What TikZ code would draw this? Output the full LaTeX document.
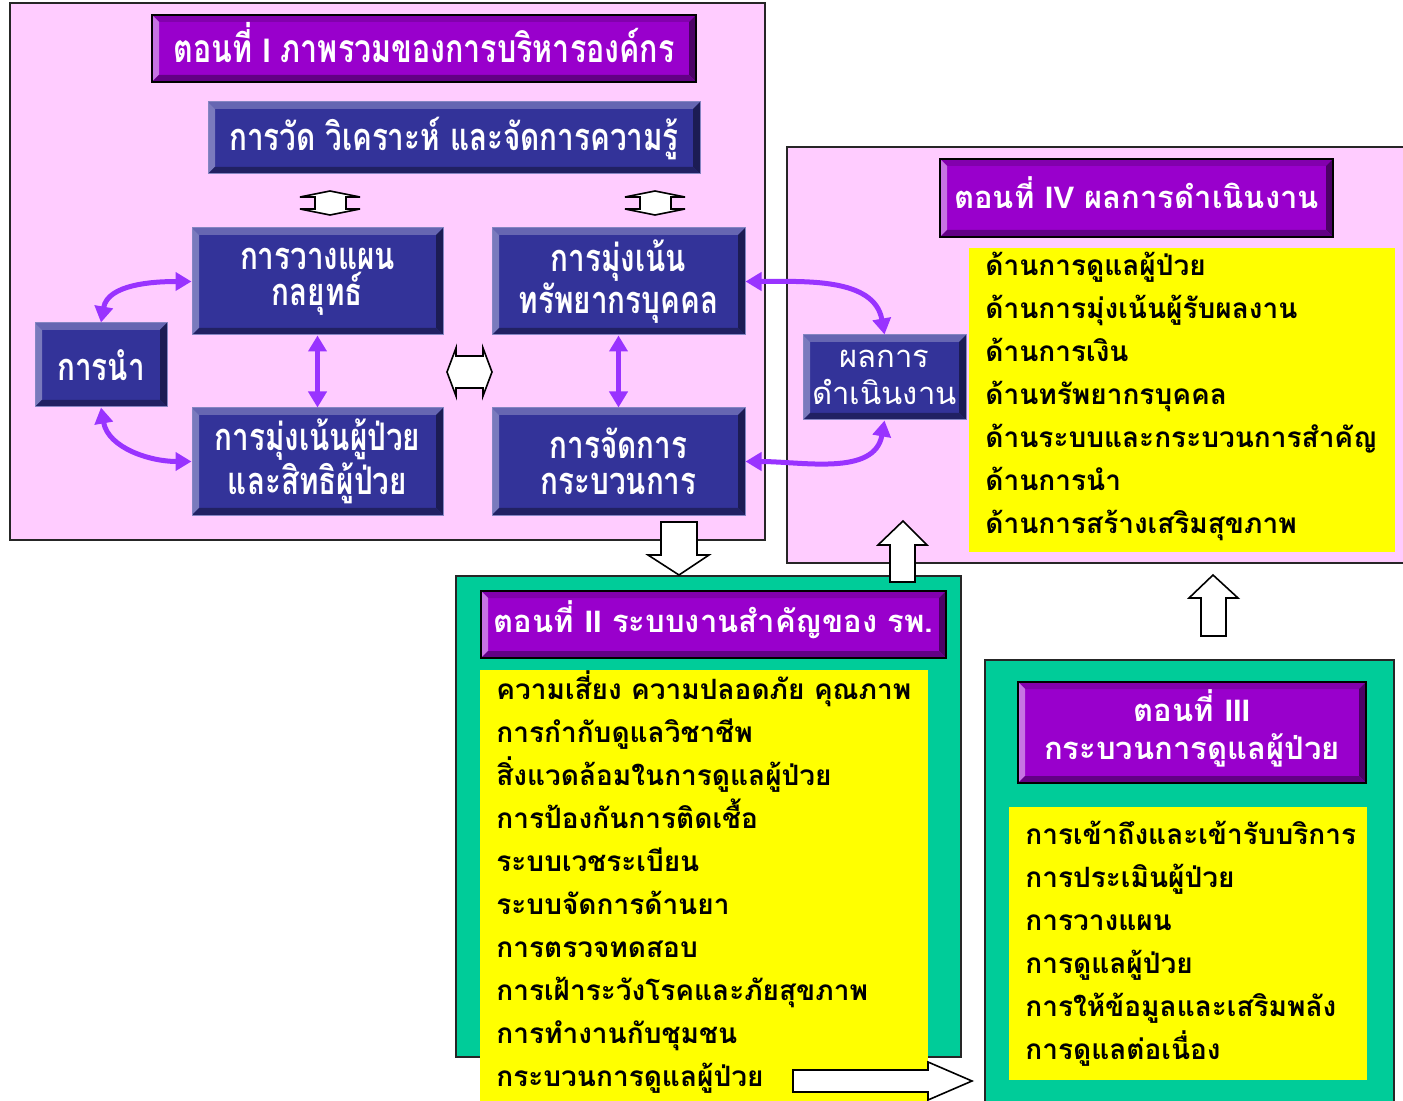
\documentclass[tikz,border=0pt]{standalone}
\usepackage{fontspec}
\newfontfamily\thaifont[Script=Thai]{Loma}
\newfontfamily\thainarrow[Script=Thai,FakeStretch=0.78]{Loma}
\newfontfamily\latinsans{Liberation Sans}
\newfontfamily\latinnarrow[FakeStretch=0.85]{Liberation Sans}
\usetikzlibrary{arrows.meta}
\definecolor{pinkbg}{RGB}{255,204,255}
\definecolor{greenbg}{RGB}{0,204,153}
\definecolor{yel}{RGB}{255,255,0}
\definecolor{navy}{RGB}{51,51,153}
\definecolor{ttl}{RGB}{153,0,204}
\definecolor{arr}{RGB}{153,51,255}
\def\bvl{3.5pt}
\tikzset{
  bevel/.style n args={5}{fill=#1, path picture={
    \fill[#2] (path picture bounding box.north west) -- (path picture bounding box.north east)
      -- ([shift={(-\bvl,-\bvl)}]path picture bounding box.north east)
      -- ([shift={(\bvl,-\bvl)}]path picture bounding box.north west) -- cycle;
    \fill[#3] (path picture bounding box.north west) -- (path picture bounding box.south west)
      -- ([shift={(\bvl,\bvl)}]path picture bounding box.south west)
      -- ([shift={(\bvl,-\bvl)}]path picture bounding box.north west) -- cycle;
    \fill[#4] (path picture bounding box.north east) -- (path picture bounding box.south east)
      -- ([shift={(-\bvl,\bvl)}]path picture bounding box.south east)
      -- ([shift={(-\bvl,-\bvl)}]path picture bounding box.north east) -- cycle;
    \fill[#5] (path picture bounding box.south west) -- (path picture bounding box.south east)
      -- ([shift={(-\bvl,\bvl)}]path picture bounding box.south east)
      -- ([shift={(\bvl,\bvl)}]path picture bounding box.south west) -- cycle;
  }},
  panelpink/.style={draw=black!85, line width=0.8pt, fill=pinkbg},
  panelgreen/.style={draw=black!85, line width=0.8pt, fill=greenbg},
  yelbox/.style={fill=yel},
  navybox/.style={bevel={navy}{navy!75!white}{navy!65!white}{navy!55!black}{navy!65!black},
    draw=navy!60!white, line width=0.5pt},
  titlebox/.style={bevel={ttl}{ttl!85!black}{ttl!55!white}{ttl!50!black}{ttl!65!black},
    draw=black, line width=0.8pt},
  whitetext/.style={text=white, align=center, inner sep=0pt},
  narrowtext/.style={whitetext, font=\thainarrow\bfseries\fontsize{19}{18}\selectfont},
  widetitle/.style={whitetext, font=\thaifont\bfseries\fontsize{15.5}{19}\selectfont},
  resulttext/.style={whitetext, font=\thaifont\fontsize{15.5}{18.5}\selectfont},
  listtext/.style={align=left, inner sep=0pt, anchor=north west,
    font=\thaifont\bfseries\fontsize{14}{21.5}\selectfont},
  conn/.style={draw=arr, line width=2.5pt, arrows={Triangle[length=8pt,width=9pt]-Triangle[length=8pt,width=9pt]}},
  blockarr/.style={draw=black, fill=white, line width=0.8pt},
}
\newcommand\placebox[6]{%
  \pgfmathsetmacro\bw{(#5-#3)*0.5}\pgfmathsetmacro\bh{(#6-#4)*0.5}%
  \node[#2, minimum width=\bw pt, minimum height=\bh pt, inner sep=0pt] (#1) at ({(#3+#5)/2},{(#4+#6)/2}) {};}
\newcommand\boxtext[4]{\node[#2] (#1-t) at ([yshift=#3]#1.center) {#4};}
\begin{document}
\begin{tikzpicture}[x=0.5pt,y=-0.5pt]
\useasboundingbox[fill=white] (0,0) rectangle (1403,1101);
% panels
\placebox{p1}{panelpink}{10}{3}{765}{540}
\placebox{p4}{panelpink}{787}{147}{1415}{563}
\placebox{p2}{panelgreen}{456}{576}{961}{1057}
\placebox{p3}{panelgreen}{985}{660}{1394}{1120}
% panel I
\placebox{t1}{titlebox}{152}{15}{696}{82}
\boxtext{t1}{narrowtext,font=\thainarrow\bfseries\fontsize{19.5}{18}\selectfont}{3pt}{ตอนที่ {\latinnarrow\bfseries\fontsize{17}{18}\selectfont I} ภาพรวมของการบริหารองค์กร}
\placebox{km}{navybox}{208}{102}{700}{174}
\boxtext{km}{narrowtext}{0pt}{การวัด วิเคราะห์ และจัดการความรู้}
\placebox{plan}{navybox}{192}{228}{443}{335}
\boxtext{plan}{narrowtext}{0pt}{การวางแผน\\กลยุทธ์}
\placebox{hr}{navybox}{492}{228}{745}{335}
\boxtext{hr}{narrowtext}{0pt}{การมุ่งเน้น\\ทรัพยากรบุคคล}
\placebox{lead}{navybox}{35}{323}{167}{407}
\boxtext{lead}{narrowtext}{0pt}{การนำ}
\placebox{pat}{navybox}{192}{408}{443}{515}
\boxtext{pat}{narrowtext}{0pt}{การมุ่งเน้นผู้ป่วย\\และสิทธิผู้ป่วย}
\placebox{proc}{navybox}{492}{408}{745}{515}
\boxtext{proc}{narrowtext}{0pt}{การจัดการ\\กระบวนการ}
% small block arrows in panel I
\draw[blockarr] (330,191)--(360,197)--(346,197)--(346,209)--(360,209)--(330,215)--(300,209)--(315,209)--(315,197)--(300,197)--cycle;
\draw[blockarr] (655,191)--(685,197)--(671,197)--(671,209)--(685,209)--(655,215)--(625,209)--(640,209)--(640,197)--(625,197)--cycle;
\draw[blockarr] (447,372)--(456,348)--(456,356)--(483,356)--(483,348)--(492,372)--(483,396)--(483,388)--(456,388)--(456,396)--cycle;
% panel IV
\placebox{t4}{titlebox}{940}{159}{1333}{237}
\boxtext{t4}{widetitle}{2.5pt}{ตอนที่ {\latinsans\bfseries IV} ผลการดำเนินงาน}
\placebox{y4}{yelbox}{969}{248}{1395}{552}
\node[listtext] (l4) at (985,252) {ด้านการดูแลผู้ป่วย\\ด้านการมุ่งเน้นผู้รับผลงาน\\ด้านการเงิน\\ด้านทรัพยากรบุคคล\\ด้านระบบและกระบวนการสำคัญ\\ด้านการนำ\\ด้านการสร้างเสริมสุขภาพ};
\placebox{result}{navybox}{803}{335}{966}{420}
\boxtext{result}{resulttext}{0pt}{ผลการ\\ดำเนินงาน}
% panel II
\placebox{t2}{titlebox}{481}{591}{946}{658}
\boxtext{t2}{widetitle}{2.5pt}{ตอนที่ {\latinsans\bfseries II} ระบบงานสำคัญของ รพ.}
\placebox{y2}{yelbox}{480}{670}{928}{1110}
\node[listtext] (l2) at (496,670) {ความเสี่ยง ความปลอดภัย คุณภาพ\\การกำกับดูแลวิชาชีพ\\สิ่งแวดล้อมในการดูแลผู้ป่วย\\การป้องกันการติดเชื้อ\\ระบบเวชระเบียน\\ระบบจัดการด้านยา\\การตรวจทดสอบ\\การเฝ้าระวังโรคและภัยสุขภาพ\\การทำงานกับชุมชน\\กระบวนการดูแลผู้ป่วย};
% panel III
\placebox{t3}{titlebox}{1018}{682}{1366}{783}
\boxtext{t3}{widetitle}{2pt}{ตอนที่ {\latinsans\bfseries III}\\กระบวนการดูแลผู้ป่วย}
\placebox{y3}{yelbox}{1009}{807}{1367}{1080}
\node[listtext] (l3) at (1025,821) {การเข้าถึงและเข้ารับบริการ\\การประเมินผู้ป่วย\\การวางแผน\\การดูแลผู้ป่วย\\การให้ข้อมูลและเสริมพลัง\\การดูแลต่อเนื่อง};
% block arrows between panels
\draw[blockarr] (661,522)--(697,522)--(697,555)--(709,555)--(679,575)--(648,555)--(661,555)--cycle;
\draw[blockarr] (890,582)--(890,545)--(878,545)--(903,521)--(927,545)--(915,545)--(915,582)--cycle;
\draw[blockarr] (1201,636)--(1201,598)--(1189,598)--(1213,575)--(1238,598)--(1226,598)--(1226,636)--cycle;
\draw[blockarr] (793,1070)--(928,1070)--(928,1062)--(972,1081)--(928,1100)--(928,1092)--(793,1092)--cycle;
% purple connectors
\draw[conn] (lead.north) to[out=80,in=180] (plan.west);
\draw[conn] (lead.south) to[out=-80,in=180] (pat.west);
\draw[conn] (plan.south) -- (pat.north);
\draw[conn] (hr.south) -- (proc.north);
\draw[conn] (hr.east) to[out=0,in=100] (result.north);
\draw[conn] (proc.east) to[out=0,in=-100] (result.south);
\end{tikzpicture}
\end{document}
